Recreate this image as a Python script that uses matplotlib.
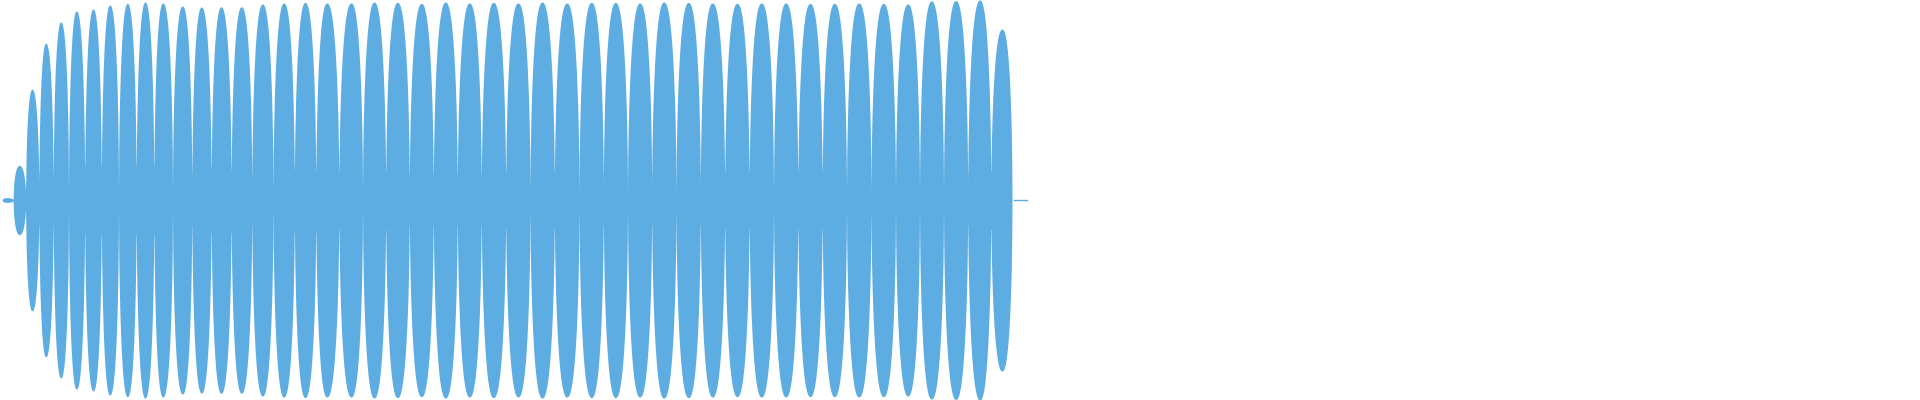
import matplotlib
matplotlib.use("Agg")
import matplotlib.pyplot as plt
import numpy as np

# waveform: one entry per lobe (x in px, peak as fraction of full scale)
lobe_x = [7, 19.3, 32, 45.7, 60.7, 76.3, 93, 109.7, 127.3, 145, 162.7,
          182.3, 201.3, 221, 241.3, 262.3, 283.7, 305, 326.7, 351, 374,
          397.3, 421.3, 445.3, 469.3, 493.3, 518, 542, 566.7, 591.3, 615.3,
          639.7, 663.7, 688.3, 712.3, 737, 761.3, 785.7, 810, 834.3, 858.7,
          883.3, 907.7, 931.3, 955.7, 979.7, 1002]
lobe_peak = [0.012, 0.173, 0.554, 0.784, 0.890, 0.945, 0.955, 0.975, 0.983, 0.990, 0.985,
             0.970, 0.965, 0.966, 0.966, 0.980, 0.985, 0.988, 0.985, 0.985, 0.990,
             0.988, 0.983, 0.990, 0.985, 0.988, 0.985, 0.990, 0.985, 0.988, 0.988,
             0.985, 0.990, 0.988, 0.985, 0.983, 0.985, 0.985, 0.983, 0.983, 0.985,
             0.983, 0.980, 0.995, 0.997, 1.0, 0.855]
wave_start, wave_end = 2, 1012
band_start, band_end = 24, 1010
band_level = 0.05
tail_start, tail_end = 1014, 1027

color = '#5DADE2'

# build the envelope lobe by lobe (rounded, nearly elliptical lobes)
xs = np.arange(wave_start, wave_end + 0.25, 0.25)
env = np.zeros_like(xs)
n = len(lobe_x)
for i in range(n):
    c = lobe_x[i]
    left = wave_start if i == 0 else (lobe_x[i-1] + c) / 2
    right = wave_end if i == n - 1 else (c + lobe_x[i+1]) / 2
    for lo, hi in ((left, c), (c, right)):
        m = (xs >= lo) & (xs <= hi)
        u = np.abs(xs[m] - c) / (hi - lo)
        env[m] = np.maximum(env[m], lobe_peak[i] * np.sqrt(np.clip(1 - u ** 2.3, 0, 1)))

inband = (xs >= band_start) & (xs <= band_end)
env[inband] = np.maximum(env[inband], band_level)

fig = plt.figure(figsize=(19.2, 4), dpi=100)
ax = fig.add_axes([0, 0, 1, 1])
ax.fill_between(xs, -env, env, color=color, lw=0)
ax.plot([tail_start, tail_end], [0, 0], color=color, lw=1.0)

ax.set_xlim(0, 1920)
ax.set_ylim(-1, 1)
ax.axis('off')

fig.savefig('out.png', dpi=100)
